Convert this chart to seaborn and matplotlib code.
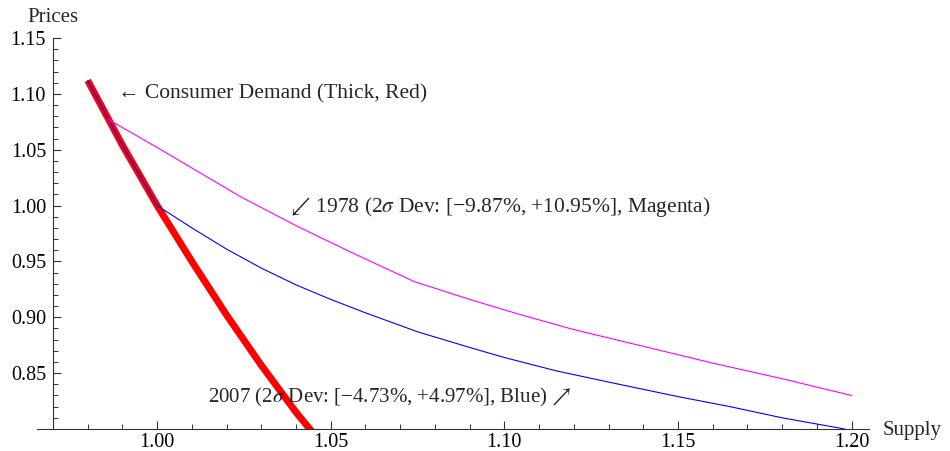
import matplotlib
matplotlib.use("Agg")
import numpy as np
import pandas as pd
import seaborn as sns
import matplotlib.pyplot as plt

# ---- data ----
demand_supply = [0.98, 0.99, 1.00, 1.01, 1.02, 1.03, 1.04, 1.045]
demand_price = [1.112, 1.054, 1.000, 0.950, 0.902, 0.857, 0.815, 0.796]

blue_supply = [0.98, 0.99, 1.00, 1.01, 1.02, 1.03, 1.04, 1.05, 1.06, 1.075,
               1.09, 1.10, 1.115, 1.13, 1.15, 1.165, 1.18, 1.198]
blue_price = [1.112, 1.054, 1.000, 0.980, 0.961, 0.944, 0.929, 0.916, 0.904, 0.887,
              0.873, 0.864, 0.852, 0.842, 0.829, 0.820, 0.810, 0.800]

mag_supply = [0.986, 1.000, 1.012, 1.024, 1.040, 1.056, 1.074, 1.090, 1.105,
              1.120, 1.140, 1.160, 1.180, 1.200]
mag_price = [1.077, 1.052, 1.030, 1.008, 0.982, 0.958, 0.932, 0.916, 0.902,
             0.889, 0.874, 0.859, 0.845, 0.830]

x_major = [1.00, 1.05, 1.10, 1.15, 1.20]
x_labels = ["1.00", "1.05", "1.10", "1.15", "1.20"]
y_major = [0.85, 0.90, 0.95, 1.00, 1.05, 1.10, 1.15]
y_labels = ["0.85", "0.90", "0.95", "1.00", "1.05", "1.10", "1.15"]

txt_demand = "\u2190 Consumer Demand (Thick, Red)"
txt_1978 = "$\\swarrow\\,$1978 (2$\\sigma$ Dev: [\u22129.87%, +10.95%], Magenta)"
txt_2007 = "2007 (2$\\sigma$ Dev: [\u22124.73%, +4.97%], Blue)$\\,\\nearrow$"

# ---- style ----
sns.set_theme(style="white")
plt.rcParams["font.family"] = ["Liberation Serif", "DejaVu Serif", "DejaVu Sans"]
plt.rcParams["mathtext.fontset"] = "stix"
FS = 15
TFS = 14.5

fig = plt.figure(figsize=(9.5, 4.51), dpi=100)
ax = fig.add_axes([37 / 950, 22 / 451, 832 / 950, 391 / 451])

sns.lineplot(x=demand_supply, y=demand_price, ax=ax, color="#ff0000",
             linewidth=5.0, sort=False, estimator=None, solid_capstyle="butt")
sns.lineplot(x=blue_supply, y=blue_price, ax=ax, color="#0000ff",
             linewidth=0.8, sort=False, estimator=None)
sns.lineplot(x=mag_supply, y=mag_price, ax=ax, color="#ff00ff",
             linewidth=0.8, sort=False, estimator=None)

ax.set_xlim(0.9654, 1.205)
ax.set_ylim(0.80, 1.15)

for s in ["top", "right"]:
    ax.spines[s].set_visible(False)
ax.spines["left"].set_position(("data", 0.97))
for s in ["left", "bottom"]:
    ax.spines[s].set_color("#333333")
    ax.spines[s].set_linewidth(0.8)

ax.set_xticks(x_major)
ax.set_xticklabels(x_labels)
ax.set_xticks([round(0.98 + 0.01 * i, 2) for i in range(23) if round(0.98 + 0.01 * i, 2) not in x_major], minor=True)
ax.set_yticks(y_major)
ax.set_yticklabels(y_labels)
ax.set_yticks([round(0.81 + 0.01 * i, 2) for i in range(34) if round(0.81 + 0.01 * i, 2) not in y_major], minor=True)

ax.tick_params(axis="both", which="major", direction="in", length=5.5, width=0.8,
               color="#333333", labelsize=TFS, labelcolor="black", bottom=True, left=True)
ax.tick_params(axis="both", which="minor", direction="in", length=3.3, width=0.7,
               color="#333333", bottom=True, left=True)
ax.tick_params(axis="x", pad=3)
ax.tick_params(axis="y", pad=5)
ax.grid(False)
ax.set_xlabel("")
ax.set_ylabel("")

ax.text(0.9888, 1.100, txt_demand, fontsize=15.5, ha="left", va="center")
ax.text(1.0375, 0.9987, txt_1978, fontsize=15.5, ha="left", va="center")
ax.text(1.0147, 0.8286, txt_2007, fontsize=FS, ha="left", va="center")

fig.text(53 / 950, 1 - 17 / 451, "Prices", fontsize=FS, ha="center", va="center")
fig.text(883 / 950, 1 - 430 / 451, "Supply", fontsize=FS, ha="left", va="center")

fig.savefig("out.png", dpi=100)
